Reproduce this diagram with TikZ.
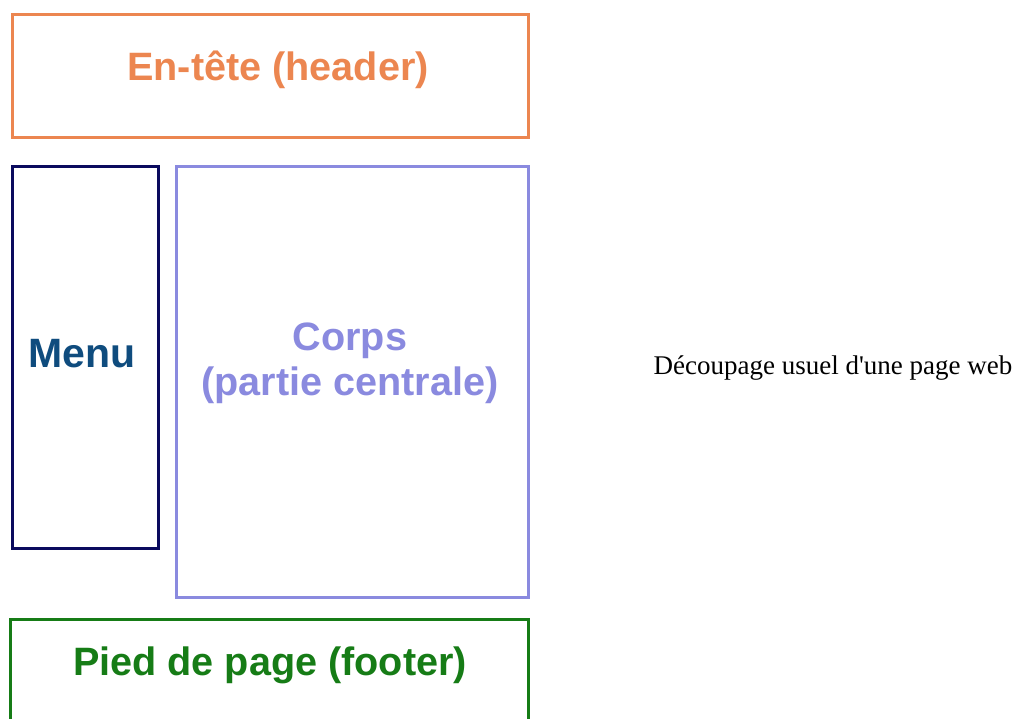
\documentclass[tikz,border=0pt]{standalone}
\usepackage{fontspec}
\setmainfont{Liberation Serif}
\newfontfamily\boxfont{Liberation Sans}
\definecolor{hdr}{HTML}{EC8650}
\definecolor{menuborder}{HTML}{0A0A5E}
\definecolor{menutext}{HTML}{0F4C7E}
\definecolor{corps}{HTML}{8A8ADF}
\definecolor{foot}{HTML}{167C16}
\begin{document}
\begin{tikzpicture}[x=1pt,y=-1pt,
  boxstyle/.style={draw, line width=3pt, rectangle, inner sep=0pt},
  boxlabel/.style={font=\boxfont\bfseries\fontsize{39.6}{45}\selectfont, align=center, inner sep=0pt}]
\useasboundingbox (0,0) rectangle (1018,718);
\clip (0,0) rectangle (1018,718);
\node[boxstyle, hdr, minimum width=516pt, minimum height=123pt] (header) at (270,75.5) {};
\node[boxstyle, menuborder, minimum width=146pt, minimum height=382pt] (menu) at (85,357) {};
\node[boxstyle, corps, minimum width=352pt, minimum height=431pt] (corps) at (352,381.5) {};
\node[boxstyle, foot, minimum width=518pt, minimum height=104pt] (footer) at (269,671) {};
\node[boxlabel, text=hdr] (headertext) at (278,70) {En-tête (header)};
\node[boxlabel, text=menutext, font=\boxfont\bfseries\fontsize{41}{45}\selectfont] (menutext) at (82,354) {Menu};
\node[boxlabel, text=corps] (corpstext) at (350,363) {Corps\\(partie centrale)};
\node[boxlabel, text=foot] (footertext) at (270,665) {Pied de page (footer)};
\node[font=\fontsize{27}{30}\selectfont, inner sep=0pt] (caption) at (833,368) {Découpage usuel d\textquotesingle une page web};
\end{tikzpicture}
\end{document}
